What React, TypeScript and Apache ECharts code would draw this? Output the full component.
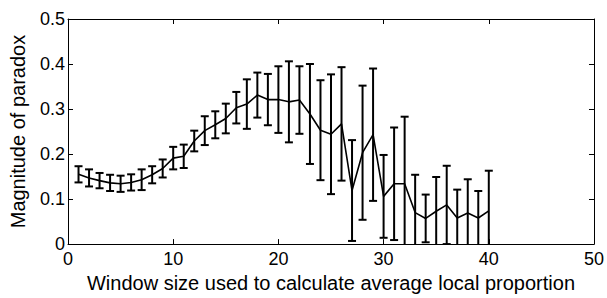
import React, { useEffect, useRef } from "react";
import * as echarts from "echarts";

const windowSizes = [
  1, 2, 3, 4, 5, 6, 7, 8, 9, 10, 11, 12, 13, 14, 15, 16, 17, 18, 19, 20,
  21, 22, 23, 24, 25, 26, 27, 28, 29, 30, 31, 32, 33, 34, 35, 36, 37, 38, 39, 40,
];
const meanValues = [
  0.155, 0.147, 0.141, 0.136, 0.134, 0.137, 0.143, 0.154, 0.168, 0.191,
  0.195, 0.229, 0.252, 0.265, 0.279, 0.303, 0.311, 0.331, 0.321, 0.321,
  0.316, 0.32, 0.289, 0.253, 0.244, 0.267, 0.119, 0.203, 0.243, 0.106,
  0.134, 0.134, 0.07, 0.057, 0.073, 0.087, 0.058, 0.069, 0.058, 0.074,
];
const errValues = [
  0.018, 0.019, 0.017, 0.018, 0.018, 0.018, 0.023, 0.019, 0.02, 0.025,
  0.026, 0.023, 0.032, 0.03, 0.033, 0.035, 0.055, 0.05, 0.057, 0.074,
  0.09, 0.075, 0.111, 0.111, 0.133, 0.126, 0.112, 0.149, 0.147, 0.092,
  0.125, 0.149, 0.084, 0.053, 0.076, 0.087, 0.063, 0.075, 0.06, 0.089,
];
const xTicks = { min: 0, max: 50, interval: 10 };
const yTicks = { min: 0, max: 0.5, interval: 0.1 };

const FONT = "'Liberation Sans', Arial, Helvetica, sans-serif";

export default function App() {
  const ref = useRef<HTMLDivElement>(null);
  useEffect(() => {
    if (!ref.current) return;
    const chart = echarts.init(ref.current, undefined, { renderer: "svg" });
    const lineData = windowSizes.map((x, i) => [x, meanValues[i]]);
    const errData = windowSizes.map((x, i) => [
      x,
      meanValues[i] - errValues[i],
      meanValues[i] + errValues[i],
    ]);
    const axisLine = { show: true, onZero: false, lineStyle: { color: "#000", width: 1 } };
    const axisTick = { show: true, inside: true, length: 5, lineStyle: { color: "#000", width: 1 } };
    chart.setOption({
      animation: false,
      backgroundColor: "#fff",
      grid: { left: 65, right: 13, top: 19, bottom: 42, containLabel: false },
      xAxis: [
        {
          type: "value",
          ...xTicks,
          position: "bottom",
          axisLine,
          axisTick,
          splitLine: { show: false },
          axisLabel: { color: "#000", fontFamily: FONT, fontSize: 18, margin: 6 },
          name: "Window size used to calculate average local proportion",
          nameLocation: "middle",
          nameGap: 22,
          nameTextStyle: { color: "#000", fontFamily: FONT, fontSize: 20 },
        },
        {
          type: "value",
          ...xTicks,
          position: "top",
          axisLine,
          axisTick,
          splitLine: { show: false },
          axisLabel: { show: false },
        },
      ],
      yAxis: [
        {
          type: "value",
          ...yTicks,
          position: "left",
          axisLine,
          axisTick,
          splitLine: { show: false },
          axisLabel: { color: "#000", fontFamily: FONT, fontSize: 18, margin: 3 },
          name: "Magnitude of paradox",
          nameLocation: "middle",
          nameGap: 40,
          nameTextStyle: { color: "#000", fontFamily: FONT, fontSize: 20 },
        },
        {
          type: "value",
          ...yTicks,
          position: "right",
          axisLine,
          axisTick,
          splitLine: { show: false },
          axisLabel: { show: false },
        },
      ],
      series: [
        {
          type: "line",
          data: lineData,
          xAxisIndex: 0,
          yAxisIndex: 0,
          symbol: "none",
          lineStyle: { color: "#000", width: 1.6 },
          z: 3,
        },
        {
          type: "custom",
          xAxisIndex: 0,
          yAxisIndex: 0,
          clip: true,
          data: errData,
          encode: { x: 0, y: [1, 2] },
          renderItem: (params: any, api: any) => {
            const x = api.value(0);
            const lo = api.coord([x, api.value(1)]);
            const hi = api.coord([x, api.value(2)]);
            const hw = 4;
            const style = { stroke: "#000", lineWidth: 2, fill: "none" };
            return {
              type: "group",
              children: [
                { type: "line", shape: { x1: lo[0], y1: lo[1], x2: hi[0], y2: hi[1] }, style },
                { type: "line", shape: { x1: hi[0] - hw, y1: hi[1], x2: hi[0] + hw, y2: hi[1] }, style },
                { type: "line", shape: { x1: lo[0] - hw, y1: lo[1], x2: lo[0] + hw, y2: lo[1] }, style },
              ],
            };
          },
          z: 4,
        },
      ],
    });
    return () => chart.dispose();
  }, []);
  return (
    <div
      ref={ref}
      style={{ position: "fixed", left: 0, top: 0, width: 607, height: 298 }}
    />
  );
}
